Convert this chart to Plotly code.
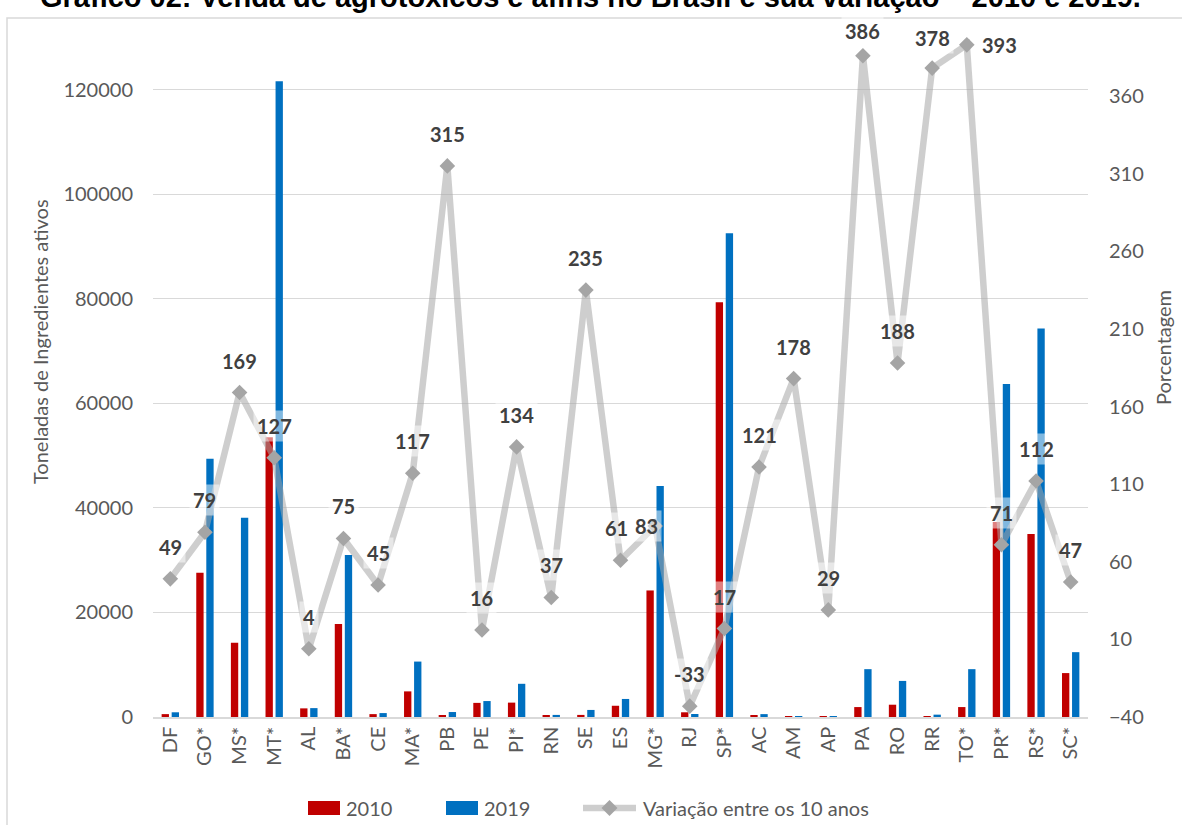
import plotly.graph_objects as go

estados = ["DF", "GO*", "MS*", "MT*", "AL", "BA*", "CE", "MA*", "PB", "PE", "PI*", "RN", "SE", "ES",
           "MG*", "RJ", "SP*", "AC", "AM", "AP", "PA", "RO", "RR", "TO*", "PR*", "RS*", "SC*"]
vendas_2010 = [550, 27600, 14200, 53500, 1650, 17800, 550, 4900, 350, 2700, 2750, 350, 400, 2150,
               24200, 900, 79300, 300, 40, 20, 1900, 2350, 60, 1900, 37300, 35000, 8400]
vendas_2019 = [900, 49400, 38100, 121600, 1700, 31000, 750, 10600, 950, 3050, 6350, 400, 1350, 3450,
               44200, 570, 92500, 550, 120, 50, 9150, 6900, 450, 9150, 63700, 74300, 12400]
variacao = [49, 79, 169, 127, 4, 75, 45, 117, 315, 16, 134, 37, 235, 61,
            83, -33, 17, 121, 178, 29, 386, 188, 378, 393, 71, 112, 47]
series_names = ["2010", "2019", "Variação entre os 10 anos"]

FONT = "Lato"
GREY_TXT = "#595959"
RED = "#C00000"
BLUE = "#0070C0"
LINE_COL = "rgba(165,165,165,0.55)"
MARK_COL = "#A5A5A5"

# plot area in pixels (for converting helper positions to paper coords)
PX_L, PX_R, PX_T, PX_B = 153, 1088, 20, 717


def px(xp):
    return (xp - PX_L) / (PX_R - PX_L)


def py(yp):
    return (PX_B - yp) / (PX_B - PX_T)


fig = go.Figure()
fig.add_trace(go.Bar(x=estados, y=vendas_2010, name=series_names[0], marker_color=RED,
                     marker_line_width=0))
fig.add_trace(go.Bar(x=estados, y=vendas_2019, name=series_names[1], marker_color=BLUE,
                     marker_line_width=0))
fig.add_trace(go.Scatter(x=estados, y=variacao, name=series_names[2], yaxis="y2",
                         mode="lines+markers",
                         line=dict(color=LINE_COL, width=6.5),
                         marker=dict(symbol="diamond", size=12, color=MARK_COL)))

# data labels
label_shift = {"TO*": (33, 0), "MG*": (-9, 0), "ES": (-4, 32), "PA": (0, 25), "RR": (0, 30)}
for est, v in zip(estados, variacao):
    xs, ys = label_shift.get(est, (0, 32))
    fig.add_annotation(x=est, y=v, xref="x", yref="y2", text=f"<b>{v}</b>", showarrow=False,
                       xshift=xs, yshift=ys, font=dict(family=FONT, size=20, color="#404040"),
                       bgcolor="rgba(255,255,255,0.5)", borderpad=3)

# title (cropped at top in reference, as in the original image)
fig.add_annotation(text="<b>Gráfico 02: Venda de agrotóxicos e afins no Brasil e sua variação – 2010 e 2019.</b>",
                   xref="paper", yref="paper", x=px(590), y=py(15), xanchor="center", yanchor="bottom",
                   showarrow=False, font=dict(family="Liberation Sans", size=29, color="#000000"))
# axis titles
fig.add_annotation(text="Toneladas de Ingredientes ativos", xref="paper", yref="paper",
                   x=px(40), y=py(342), xanchor="center", yanchor="middle", textangle=-90,
                   showarrow=False, font=dict(family=FONT, size=20, color=GREY_TXT))
fig.add_annotation(text="Porcentagem", xref="paper", yref="paper",
                   x=px(1163), y=py(348), xanchor="center", yanchor="middle", textangle=-90,
                   showarrow=False, font=dict(family=FONT, size=20, color=GREY_TXT))

# chart frame
fig.add_shape(type="rect", xref="paper", yref="paper", x0=px(7), x1=px(1400), y0=py(1000), y1=py(18),
              line=dict(color="#D9D9D9", width=1.5), layer="below")

# legend (drawn manually to match the wide swatches of the original)
LEG_Y = 808
for name, col, x0 in [(series_names[0], RED, 308), (series_names[1], BLUE, 446)]:
    fig.add_shape(type="rect", xref="paper", yref="paper", x0=px(x0), x1=px(x0 + 32),
                  y0=py(LEG_Y + 7), y1=py(LEG_Y - 7), fillcolor=col, line_width=0)
    fig.add_annotation(text=name, xref="paper", yref="paper", x=px(x0 + 36), y=py(LEG_Y),
                       xanchor="left", yanchor="middle", showarrow=False,
                       font=dict(family=FONT, size=20, color=GREY_TXT))
fig.add_shape(type="line", xref="paper", yref="paper", x0=px(583), x1=px(636),
              y0=py(LEG_Y), y1=py(LEG_Y), line=dict(color=LINE_COL, width=6.5))
cx = 609.5
fig.add_shape(type="path", xref="paper", yref="paper",
              path=f"M {px(cx - 8)} {py(LEG_Y)} L {px(cx)} {py(LEG_Y - 8)} L {px(cx + 8)} {py(LEG_Y)} "
                   f"L {px(cx)} {py(LEG_Y + 8)} Z",
              fillcolor=MARK_COL, line_width=0)
fig.add_annotation(text=series_names[2], xref="paper", yref="paper", x=px(641), y=py(LEG_Y),
                   xanchor="left", yanchor="middle", showarrow=False,
                   font=dict(family=FONT, size=20, color=GREY_TXT))

fig.update_layout(
    width=1182, height=825,
    margin=dict(l=PX_L, r=1182 - PX_R, t=PX_T, b=825 - PX_B, autoexpand=False),
    paper_bgcolor="white", plot_bgcolor="white",
    barmode="group", bargap=0.42, bargroupgap=0.27,
    font=dict(family=FONT, size=20, color=GREY_TXT),
    showlegend=False,
    xaxis=dict(type="category", range=[-0.5, len(estados) - 0.5], tickangle=-90, showline=True,
               linecolor="#D9D9D9", linewidth=1.5, ticks="", showgrid=False, automargin=False,
               tickfont=dict(family=FONT, size=20, color=GREY_TXT)),
    yaxis=dict(range=[0, 133300], dtick=20000, tick0=0, tickformat="d", showgrid=True,
               gridcolor="#D9D9D9", gridwidth=1.3, zeroline=False, showline=False, ticks="",
               ticklabelstandoff=19, automargin=False,
               tickfont=dict(family=FONT, size=20, color=GREY_TXT)),
    yaxis2=dict(range=[-40, 409], dtick=50, tick0=-40, overlaying="y", side="right",
                showgrid=False, zeroline=False, showline=False, ticks="", ticklabelstandoff=20,
                automargin=False, tickfont=dict(family=FONT, size=20, color=GREY_TXT)),
)

fig.write_html("out.html", config={"displayModeBar": False},
               post_script="document.body.style.margin='0';")
